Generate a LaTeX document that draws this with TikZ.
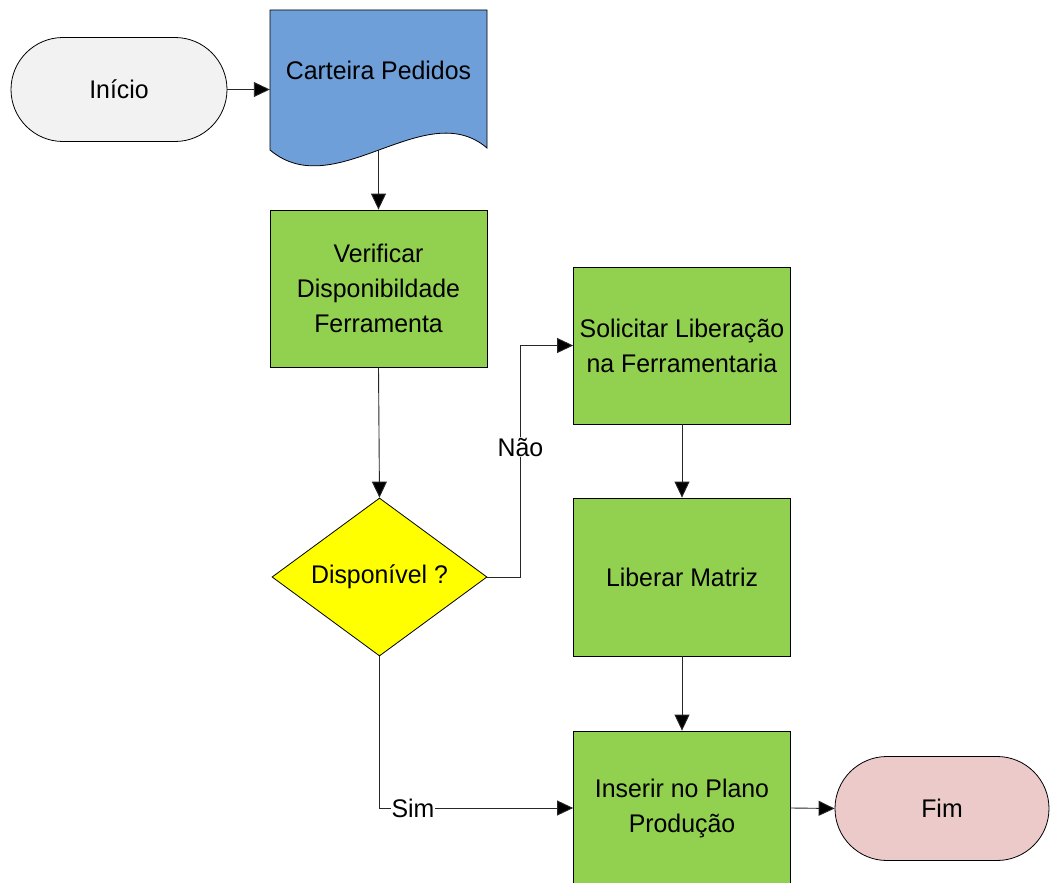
\documentclass[tikz,border=0pt]{standalone}
\usepackage{fontspec}
\setmainfont[FakeStretch=0.975]{Liberation Sans}
\usetikzlibrary{arrows.meta,shapes.geometric}
\definecolor{boxgreen}{HTML}{92D050}
\definecolor{docblue}{HTML}{6F9FD8}
\definecolor{startgray}{HTML}{F2F2F2}
\definecolor{endpink}{HTML}{EDCACA}
\definecolor{diayellow}{HTML}{FFFF00}
\tikzset{
  txt/.style={font=\fontsize{25.5}{35}\selectfont, align=center},
  procbox/.style={txt, draw=black, line width=0.8pt, fill=boxgreen, rectangle, inner sep=0pt, minimum width=217pt},
  terminal/.style={txt, draw=black, line width=0.8pt, rectangle, rounded corners=52pt, inner sep=0pt, minimum width=216pt, minimum height=104pt},
  decision/.style={txt, draw=black, line width=0.8pt, fill=diayellow, diamond, aspect=1.36, inner sep=0pt, minimum width=215pt, minimum height=158pt},
  conn/.style={draw=black!85, line width=0.9pt, -{Triangle[length=16pt,width=15pt,fill=black]}},
  lbl/.style={txt, fill=white, inner sep=1pt}
}
\begin{document}
\begin{tikzpicture}[x=1pt,y=-1pt]
\clip (0,0) rectangle (1050,883);
\fill[white] (0,0) rectangle (1050,883);
% start
\node[terminal, fill=startgray] (ini) at (119,89.5) {Início};
% document shape
\draw[fill=docblue, line width=0.8pt] (270,10) -- (487,10) -- (487,148)
  .. controls (425,95) and (335,205) .. (270,150) -- cycle;
\node[minimum width=217pt, minimum height=140pt, inner sep=0pt] (cart) at (378.5,80) {};
\node[txt] (carttxt) at (378.5,70) {Carteira Pedidos};
% process boxes
\node[procbox, minimum height=157pt] (verif) at (378.5,288.5) {Verificar\\Disponibildade\\Ferramenta};
\node[decision] (dia) at (379.5,577) {Disponível ?};
\node[procbox, minimum height=157pt] (sol) at (682,345.5) {Solicitar Liberação\\na Ferramentaria};
\node[procbox, minimum height=158pt] (lib) at (682,577) {Liberar Matriz};
\node[procbox, minimum height=154pt] (ins) at (682,808) {Inserir no Plano\\Produção};
\node[terminal, fill=endpink, minimum width=214pt] (fim) at (942,808.5) {Fim};
% connectors
\draw[conn] (ini.east) -- (ini.east -| cart.west);
\draw[conn] (cart.south) -- (verif.north);
\draw[conn] (verif.south) -- (dia.north);
\draw[conn] (dia.east) -- ++(33,0) |- (sol.west);
\draw[conn] (sol.south) -- (lib.north);
\draw[conn] (lib.south) -- (ins.north);
\draw[conn] (dia.south) |- (ins.west);
\draw[conn] (ins.east) -- (fim.west);
% labels
\node[lbl] (nao) at (520.5,447) {Não};
\node[lbl] (sim) at (413,808) {Sim};
\end{tikzpicture}
\end{document}
